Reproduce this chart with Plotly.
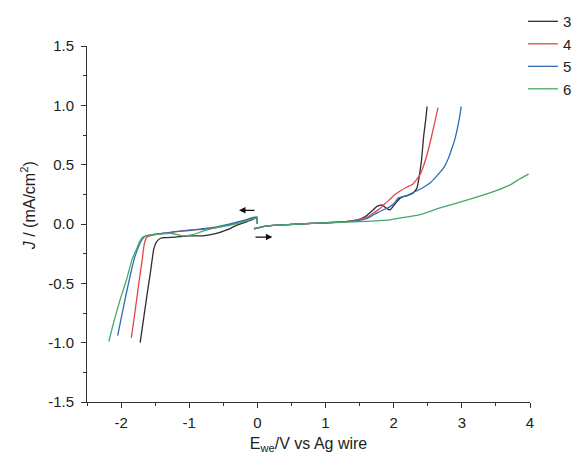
import plotly.graph_objects as go

# ---- data ----
series_names = ["3", "4", "5", "6"]
colors = ["#2e2e2e", "#e0474c", "#2f6db3", "#46a86a"]

# cathodic (negative) sweeps, starting at 0 V going left
neg_x_3 = [0.0, -0.01, -0.15, -0.3, -0.45, -0.6, -0.8, -1.0, -1.2, -1.35, -1.42, -1.48, -1.52, -1.57, -1.62, -1.67, -1.72]
neg_y_3 = [0.0, 0.05, 0.02, -0.01, -0.05, -0.08, -0.10, -0.10, -0.11, -0.115, -0.12, -0.15, -0.21, -0.41, -0.60, -0.80, -1.0]
neg_x_4 = [0.0, -0.01, -0.2, -0.4, -0.6, -0.8, -1.0, -1.2, -1.4, -1.55, -1.62, -1.66, -1.69, -1.73, -1.77, -1.81, -1.85]
neg_y_4 = [0.0, 0.055, 0.025, -0.005, -0.03, -0.045, -0.05, -0.065, -0.08, -0.095, -0.11, -0.17, -0.30, -0.46, -0.63, -0.80, -0.96]
neg_x_5 = [0.0, -0.01, -0.2, -0.4, -0.6, -0.8, -1.0, -1.2, -1.4, -1.55, -1.64, -1.69, -1.75, -1.81, -1.88, -1.94, -2.0, -2.05]
neg_y_5 = [0.0, 0.06, 0.03, 0.0, -0.025, -0.04, -0.055, -0.065, -0.08, -0.09, -0.10, -0.13, -0.20, -0.30, -0.47, -0.63, -0.80, -0.94]
neg_x_6 = [0.0, -0.01, -0.2, -0.4, -0.6, -0.8, -0.95, -1.1, -1.25, -1.45, -1.6, -1.68, -1.73, -1.78, -1.84, -1.92, -2.01, -2.1, -2.18]
neg_y_6 = [0.0, 0.05, 0.02, -0.01, -0.03, -0.06, -0.09, -0.10, -0.08, -0.085, -0.095, -0.11, -0.15, -0.22, -0.30, -0.47, -0.63, -0.81, -0.99]

# anodic (positive) sweeps, starting at 0 V going right
pos_x_3 = [-0.05, 0.1, 0.3, 0.6, 1.0, 1.3, 1.5, 1.6, 1.68, 1.76, 1.83, 1.9, 1.95, 2.02, 2.1, 2.2, 2.28, 2.34, 2.38, 2.41, 2.44, 2.47, 2.49]
pos_y_3 = [-0.04, -0.02, -0.01, 0.0, 0.01, 0.02, 0.04, 0.07, 0.11, 0.15, 0.16, 0.13, 0.12, 0.17, 0.22, 0.24, 0.26, 0.30, 0.42, 0.55, 0.74, 0.88, 0.99]
pos_x_4 = [-0.05, 0.1, 0.3, 0.6, 1.0, 1.3, 1.5, 1.62, 1.72, 1.8, 1.87, 1.95, 2.0, 2.1, 2.19, 2.27, 2.33, 2.39, 2.45, 2.51, 2.56, 2.6, 2.65]
pos_y_4 = [-0.04, -0.02, -0.01, 0.0, 0.01, 0.02, 0.04, 0.06, 0.10, 0.13, 0.17, 0.21, 0.24, 0.28, 0.31, 0.33, 0.37, 0.42, 0.51, 0.63, 0.75, 0.85, 0.98]
pos_x_5 = [-0.05, 0.1, 0.3, 0.6, 1.0, 1.3, 1.5, 1.62, 1.71, 1.78, 1.85, 1.93, 2.0, 2.07, 2.13, 2.19, 2.27, 2.34, 2.44, 2.54, 2.64, 2.73, 2.8, 2.85, 2.9, 2.94, 2.97, 2.99]
pos_y_5 = [-0.04, -0.02, -0.01, 0.0, 0.01, 0.02, 0.03, 0.05, 0.08, 0.10, 0.12, 0.14, 0.17, 0.22, 0.23, 0.24, 0.26, 0.28, 0.31, 0.35, 0.41, 0.47, 0.55, 0.63, 0.72, 0.82, 0.91, 0.99]
pos_x_6 = [-0.05, 0.1, 0.3, 0.6, 1.0, 1.5, 1.95, 2.2, 2.39, 2.68, 3.12, 3.4, 3.71, 3.85, 3.98]
pos_y_6 = [-0.04, -0.02, -0.01, 0.0, 0.01, 0.02, 0.035, 0.06, 0.08, 0.135, 0.21, 0.26, 0.33, 0.38, 0.42]

neg_x = [neg_x_3, neg_x_4, neg_x_5, neg_x_6]
neg_y = [neg_y_3, neg_y_4, neg_y_5, neg_y_6]
pos_x = [pos_x_3, pos_x_4, pos_x_5, pos_x_6]
pos_y = [pos_y_3, pos_y_4, pos_y_5, pos_y_6]

x_ticks = [-2, -1, 0, 1, 2, 3, 4]
y_ticks = [-1.5, -1.0, -0.5, 0.0, 0.5, 1.0, 1.5]

FONT = "Liberation Sans, Arial, sans-serif"

fig = go.Figure()
for name, c, nx, ny, px, py in zip(series_names, colors, neg_x, neg_y, pos_x, pos_y):
    fig.add_trace(go.Scatter(
        x=nx + [None] + px,
        y=ny + [None] + py,
        mode="lines",
        name=name,
        connectgaps=False,
        line=dict(color=c, width=1.3, shape="spline", smoothing=0.4),
    ))

# sweep direction arrows
fig.add_annotation(x=-0.27, y=0.115, ax=-0.02, ay=0.115, xref="x", yref="y",
                   axref="x", ayref="y", showarrow=True, arrowhead=2,
                   arrowsize=1, arrowwidth=1.3, arrowcolor="#111", text="")
fig.add_annotation(x=0.22, y=-0.11, ax=-0.05, ay=-0.11, xref="x", yref="y",
                   axref="x", ayref="y", showarrow=True, arrowhead=2,
                   arrowsize=1, arrowwidth=1.3, arrowcolor="#111", text="")

# y-axis title (rotated text, slightly above the axis centre as in the reference)
fig.add_annotation(x=-0.133, y=0.55, xref="paper", yref="paper", showarrow=False,
                   text="<i>J</i> / (mA/cm<sup>2</sup>)", textangle=-90,
                   xanchor="center", yanchor="middle",
                   font=dict(family=FONT, size=16, color="#222"))

axis_common = dict(
    showgrid=False, zeroline=False, showline=True, linecolor="#333",
    linewidth=1, ticks="outside", ticklen=5, tickwidth=1, tickcolor="#333",
    tickfont=dict(family=FONT, size=15, color="#222"),
    minor=dict(ticks="outside", ticklen=3, tickwidth=1, tickcolor="#333"),
)

fig.update_xaxes(
    range=[-2.5, 4], tickvals=x_ticks, ticktext=[str(v) for v in x_ticks],
    minor_dtick=0.5, minor_tick0=0, ticklabelstandoff=2,
    title=dict(text="E<sub>we</sub>/V vs Ag wire", font=dict(family=FONT, size=16, color="#222"), standoff=7),
    **axis_common,
)
fig.update_yaxes(
    range=[-1.5, 1.5], tickvals=y_ticks, ticktext=[f"{v:.1f}" for v in y_ticks],
    minor_dtick=0.25, minor_tick0=0, ticklabelstandoff=4,
    **axis_common,
)

fig.update_layout(
    width=576, height=457,
    margin=dict(l=87, r=46, t=46, b=55, autoexpand=False),
    plot_bgcolor="white", paper_bgcolor="white",
    legend=dict(x=0.984, y=1.115, xanchor="left", yanchor="top",
                font=dict(family=FONT, size=15, color="#222"),
                bgcolor="rgba(0,0,0,0)", tracegroupgap=0),
    showlegend=True,
)

fig.write_html(
    "out.html",
    config={"displayModeBar": False},
    post_script="document.body.style.margin='0px'; document.body.style.overflow='hidden';",
)
